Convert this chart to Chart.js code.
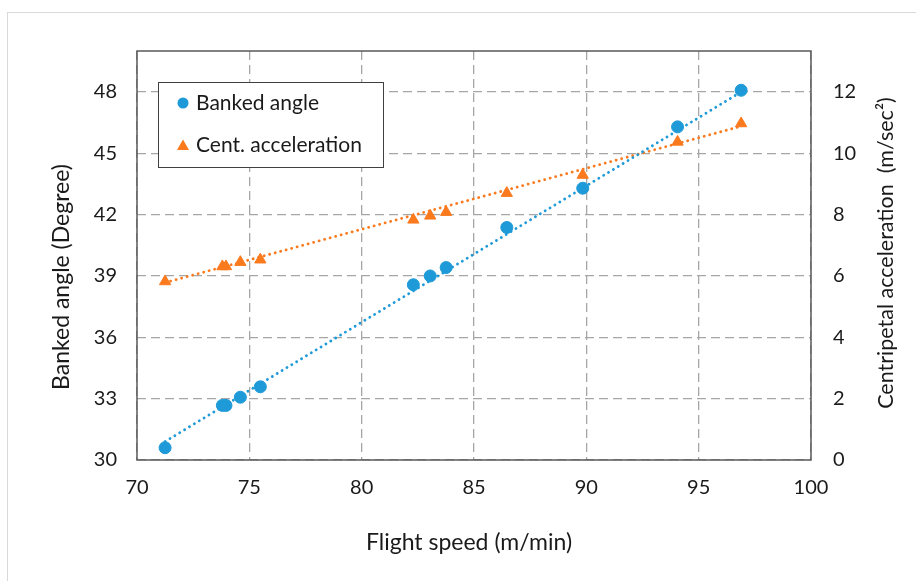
<!DOCTYPE html>
<html>
<head>
<meta charset="utf-8">
<script src="https://cdn.jsdelivr.net/npm/chart.js@4"></script>
<style>
  body { margin: 0; background: #fff; }
  canvas { display: block; }
</style>
</head>
<body>
<canvas id="chart" width="916" height="581"></canvas>
<script>
// Flight speed vs banked angle / centripetal acceleration

const speeds = [71.25, 73.8, 73.96, 74.6, 75.49, 82.3, 83.05, 83.76, 86.46, 89.84, 94.06, 96.89]
const bankedAngle = [30.6, 32.67, 32.67, 33.07, 33.58, 38.57, 39.0, 39.41, 41.37, 43.29, 46.29, 48.08]
const centAccel = [5.82, 6.31, 6.31, 6.45, 6.53, 7.83, 7.96, 8.08, 8.7, 9.29, 10.37, 10.97]

// trendline ends
const trendX = [71.25, 96.89]
const angleTrend = [30.9, 48.0]
const accelTrend = [5.78, 10.88]

const xTicks = [70, 75, 80, 85, 90, 95, 100]

const BLUE = "#1E9AD8"
const ORANGE = "#FB7A1E"
const GRID = "#A6A6A6"
const TEXT = "#1a1a1a"
const FONT = "Lato, 'Open Sans', sans-serif"

const pts = (xs, ys) => xs.map((x, i) => ({ x, y: ys[i] }))

function drawText(ctx, text, x, y, size, rotate) {
  ctx.save()
  ctx.translate(x, y)
  if (rotate) ctx.rotate(-Math.PI / 2)
  ctx.font = `${size}px ${FONT}`
  ctx.fillStyle = TEXT
  ctx.textAlign = "center"
  ctx.textBaseline = "middle"
  ctx.fillText(text, 0, 0)
  ctx.restore()
}

// gray outer box, dark plot frame, axis titles
const framePlugin = {
  id: "frame",
  beforeDraw(chart) {
    const ctx = chart.ctx
    ctx.save()
    ctx.fillStyle = "#fff"
    ctx.fillRect(0, 0, chart.width, chart.height)
    ctx.strokeStyle = "#D9D9D9"
    ctx.lineWidth = 1
    ctx.strokeRect(7.5, 12.5, 1000, 1000)
    ctx.restore()
  },
  beforeDatasetsDraw(chart) {
    const { ctx, chartArea: a } = chart
    ctx.save()
    ctx.strokeStyle = "#595959"
    ctx.lineWidth = 1.5
    ctx.strokeRect(a.left, a.top, a.right - a.left, a.bottom - a.top)
    ctx.restore()
  },
  afterDraw(chart) {
    const ctx = chart.ctx
    drawText(ctx, "Flight speed (m/min)", 469, 543, 23, false)
    drawText(ctx, "Banked angle (Degree)", 62, 277, 23, true)
    drawText(ctx, "Centripetal acceleration  (m/sec²)", 886, 253, 21.5, true)
  },
}

// boxed legend inside the plot, top left
const legendPlugin = {
  id: "boxLegend",
  afterDraw(chart) {
    const ctx = chart.ctx
    const x = 158.5, y = 82.5, w = 225, h = 85
    ctx.save()
    ctx.fillStyle = "#fff"
    ctx.fillRect(x, y, w, h)
    ctx.strokeStyle = "#404040"
    ctx.lineWidth = 1
    ctx.strokeRect(x, y, w, h)

    ctx.font = `21px ${FONT}`
    ctx.fillStyle = TEXT
    ctx.textBaseline = "middle"
    ctx.fillText("Banked angle", 196, 103)
    ctx.fillText("Cent. acceleration", 196, 145)

    ctx.fillStyle = BLUE
    ctx.beginPath()
    ctx.arc(183, 103, 5.5, 0, Math.PI * 2)
    ctx.fill()

    ctx.fillStyle = ORANGE
    ctx.beginPath()
    ctx.moveTo(183, 139.5)
    ctx.lineTo(189, 150)
    ctx.lineTo(177, 150)
    ctx.closePath()
    ctx.fill()
    ctx.restore()
  },
}

const trendStyle = {
  showLine: true,
  borderWidth: 2.8,
  borderDash: [0.1, 5.6],
  borderCapStyle: "round",
  pointRadius: 0,
}

new Chart(document.getElementById("chart"), {
  type: "scatter",
  data: {
    datasets: [
      {
        label: "Banked angle trend",
        data: pts(trendX, angleTrend),
        yAxisID: "y",
        borderColor: BLUE,
        ...trendStyle,
      },
      {
        label: "Cent. acceleration trend",
        data: pts(trendX, accelTrend),
        yAxisID: "y2",
        borderColor: ORANGE,
        ...trendStyle,
      },
      {
        label: "Banked angle",
        data: pts(speeds, bankedAngle),
        yAxisID: "y",
        backgroundColor: BLUE,
        borderColor: BLUE,
        pointRadius: 6,
        pointStyle: "circle",
      },
      {
        label: "Cent. acceleration",
        data: pts(speeds, centAccel),
        yAxisID: "y2",
        backgroundColor: ORANGE,
        borderColor: ORANGE,
        pointRadius: 6.5,
        pointStyle: "triangle",
      },
    ],
  },
  options: {
    responsive: false,
    animation: false,
    layout: { padding: { top: 51, left: 0, right: 0, bottom: 0 } },
    plugins: { legend: { display: false }, tooltip: { enabled: false } },
    scales: {
      x: {
        type: "linear",
        min: 70,
        max: 100,
        afterFit: (s) => { s.height = 121 },
        afterBuildTicks: (s) => { s.ticks = xTicks.map(v => ({ value: v })) },
        grid: { color: GRID, lineWidth: 1.3, drawTicks: false },
        border: { display: false, dash: [9, 5] },
        ticks: { color: TEXT, font: { family: FONT, size: 20 }, padding: 16 },
      },
      y: {
        position: "left",
        min: 30,
        max: 50,
        afterFit: (s) => { s.width = 137 },
        grid: { color: GRID, lineWidth: 1.3, drawTicks: false },
        border: { display: false, dash: [9, 5] },
        ticks: { stepSize: 3, includeBounds: false, color: TEXT, font: { family: FONT, size: 20 }, padding: 20 },
      },
      y2: {
        position: "right",
        min: 0,
        max: 40 / 3,
        afterFit: (s) => { s.width = 105 },
        grid: { display: false, drawTicks: false },
        border: { display: false },
        ticks: { stepSize: 2, includeBounds: false, color: TEXT, font: { family: FONT, size: 20 }, padding: 22 },
      },
    },
  },
  plugins: [framePlugin, legendPlugin],
})
</script>
</body>
</html>
